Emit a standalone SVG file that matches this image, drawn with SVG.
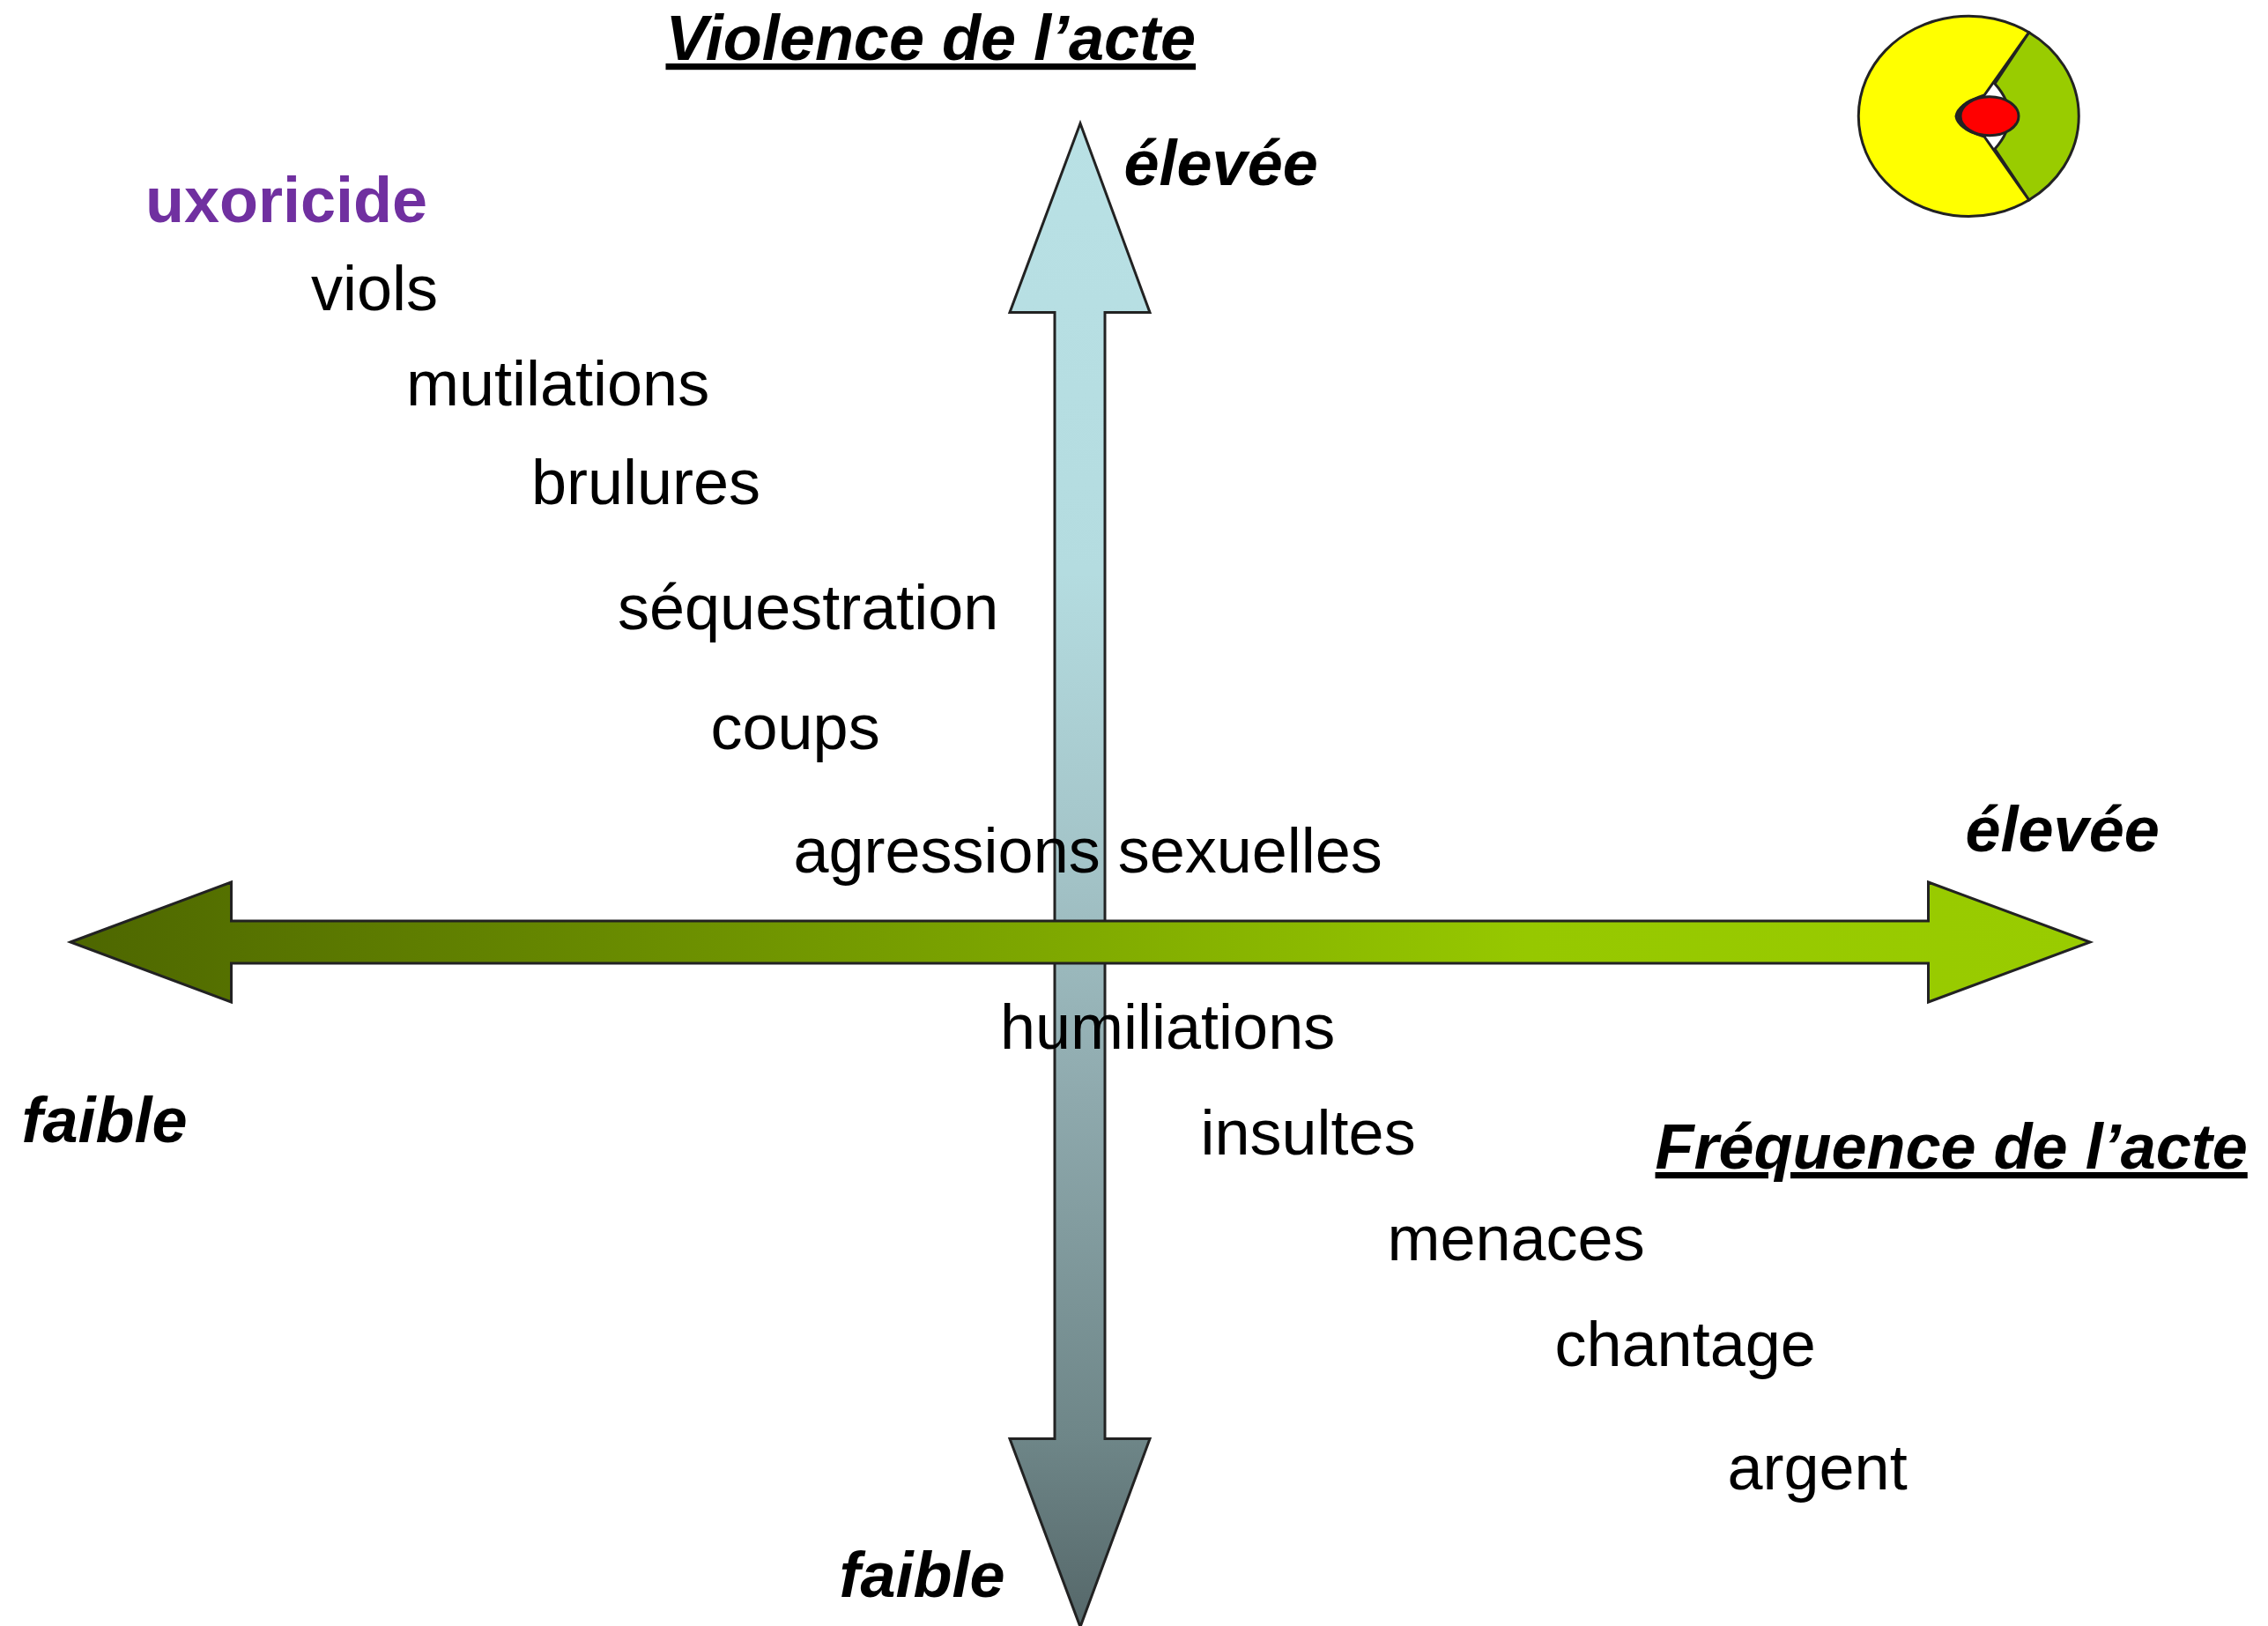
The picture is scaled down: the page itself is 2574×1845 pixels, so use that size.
<svg xmlns="http://www.w3.org/2000/svg" width="2574" height="1845" viewBox="0 0 2574 1845">
<style>
text{font-family:"Liberation Sans",Arial,sans-serif;font-size:72px;fill:#000}
.h{font-weight:bold;font-style:italic}
.u{text-decoration:underline}
.p{font-weight:bold;fill:#7030a0}
.s{stroke:#222;stroke-width:3;stroke-linejoin:miter}
</style>
<defs>
<linearGradient id="gv" gradientUnits="userSpaceOnUse" x1="0" y1="138" x2="0" y2="1845"><stop offset="0" stop-color="#b9e1e5"/><stop offset="0.3" stop-color="#b4dce0"/><stop offset="0.505" stop-color="#a2c2c6"/><stop offset="0.645" stop-color="#8faaae"/><stop offset="0.875" stop-color="#6e8688"/><stop offset="1" stop-color="#556769"/></linearGradient>
<linearGradient id="gh" gradientUnits="userSpaceOnUse" x1="78" y1="0" x2="2374" y2="0"><stop offset="0" stop-color="#4d6600"/><stop offset="0.72" stop-color="#96c800"/><stop offset="1" stop-color="#99cc00"/></linearGradient>
</defs>
<rect width="2574" height="1845" fill="#fff"/>
<g id="connectors">
<path id="axis-violence" class="s" fill="url(#gv)" d="M1226 140L1305 354.500H1254V1632.500H1305L1226 1846L1146 1632.500H1197V354.500H1146Z"/>
<path id="axis-frequence" class="s" fill="url(#gh)" d="M80 1069L262.500 1001V1045H2188.500V1001L2372 1069L2188.500 1137V1093H262.500V1137Z"/>
</g>
<g id="target">
<path class="s" fill="#99cc00" d="M2302.700 36.700A125 113.700 0 0 1 2302.700 227L2264 169Q2297 132 2264 95Z"/>
<path class="s" fill="#ffff00" d="M2302.700 36.700A125 113.700 0 1 0 2302.700 227L2252 155Q2222 146 2220 132Q2222 118 2252 108Z"/>
<ellipse cx="2255" cy="131.700" rx="34" ry="23" fill="#222"/>
<ellipse class="s" cx="2258" cy="131.700" rx="33" ry="22" fill="#ff0000"/>
</g>
<g id="title-violence"><text class="h u" x="755.500" y="68">Violence de l’acte</text></g>
<g id="title-frequence"><text class="h u" x="1878.500" y="1326">Fréquence de l’acte</text></g>
<g id="label-eleve-v"><text class="h" x="1275.500" y="210">élevée</text></g>
<g id="label-eleve-h"><text class="h" x="2230.500" y="966">élevée</text></g>
<g id="label-faible-h"><text class="h" x="24.500" y="1296">faible</text></g>
<g id="label-faible-v"><text class="h" x="952.500" y="1812">faible</text></g>
<g id="n-uxoricide"><text class="p" x="165" y="252">uxoricide</text></g>
<g id="n-viols"><text x="353" y="352">viols</text></g>
<g id="n-mutilations"><text x="461" y="460">mutilations</text></g>
<g id="n-brulures"><text x="603" y="572">brulures</text></g>
<g id="n-sequestration"><text x="701" y="714">séquestration</text></g>
<g id="n-coups"><text x="806.500" y="850">coups</text></g>
<g id="n-agressions"><text x="900.500" y="990">agressions sexuelles</text></g>
<g id="n-humiliations"><text x="1135" y="1189.500">humiliations</text></g>
<g id="n-insultes"><text x="1362.500" y="1310">insultes</text></g>
<g id="n-menaces"><text x="1574.500" y="1430">menaces</text></g>
<g id="n-chantage"><text x="1764.500" y="1550">chantage</text></g>
<g id="n-argent"><text x="1960.500" y="1689.500">argent</text></g>
</svg>
